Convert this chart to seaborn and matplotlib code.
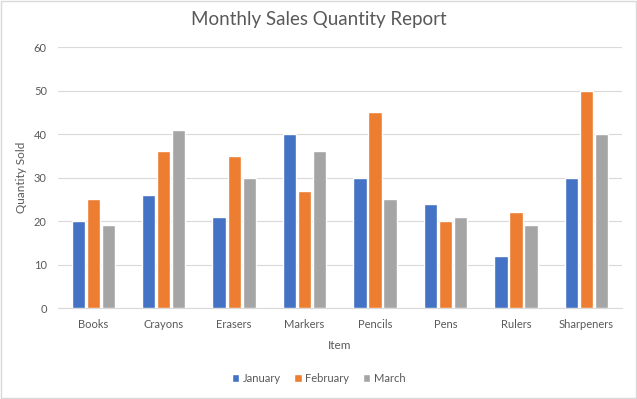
import matplotlib.pyplot as plt
import seaborn as sns
import pandas as pd
from matplotlib.patches import Rectangle

# Datos del gráfico
items = ['Books', 'Crayons', 'Erasers', 'Markers', 'Pencils', 'Pens', 'Rulers', 'Sharpeners']
enero = [20, 26, 21, 40, 30, 24, 12, 30]
febrero = [25, 36, 35, 27, 45, 20, 22, 50]
marzo = [19, 41, 30, 36, 25, 21, 19, 40]
meses = ['January', 'February', 'March']
colores = ['#4472C4', '#ED7D31', '#A5A5A5']

df = pd.DataFrame({'Item': items, 'January': enero, 'February': febrero, 'March': marzo})
df_largo = df.melt(id_vars='Item', var_name='Month', value_name='Quantity')

sns.set_style('white')
plt.rcParams['font.family'] = ['Lato', 'DejaVu Sans']

fig = plt.figure(figsize=(6.37, 3.99), dpi=100)
ax = fig.add_axes([0.091, 0.228, 0.885, 0.654])

sns.barplot(data=df_largo, x='Item', y='Quantity', hue='Month', hue_order=meses,
            palette=colores, saturation=1, width=0.64, gap=0.12, ax=ax, zorder=3,
            legend=True)

ax.set_ylim(0, 60)
ax.set_yticks(range(0, 61, 10))
ax.grid(axis='y', color='#D9D9D9', linewidth=0.8, zorder=0)
for lado in ['top', 'right', 'left']:
    ax.spines[lado].set_visible(False)
ax.spines['bottom'].set_color('#D9D9D9')
ax.tick_params(axis='both', length=0, labelsize=8, colors='#595959', pad=8)

ax.set_xlabel('Item', fontsize=8.5, color='#595959', labelpad=7)
ax.set_ylabel('Quantity Sold', fontsize=8.5, color='#595959', labelpad=5)
fig.text(0.5, 0.952, 'Monthly Sales Quantity Report', ha='center', va='center',
         fontsize=13.5, color='#595959')

ley = ax.legend(loc='center', bbox_to_anchor=(0.5, 0.052), bbox_transform=fig.transFigure,
                ncol=3, frameon=False, fontsize=8, handlelength=0.7, handleheight=0.7,
                handletextpad=0.3, columnspacing=1.2)
for t in ley.get_texts():
    t.set_color('#595959')

# Borde del área del gráfico
fig.patches.append(Rectangle((0.001, 0.002), 0.997, 0.995, transform=fig.transFigure,
                             fill=False, edgecolor='#D9D9D9', linewidth=1))

plt.savefig('out.png', dpi=100)
